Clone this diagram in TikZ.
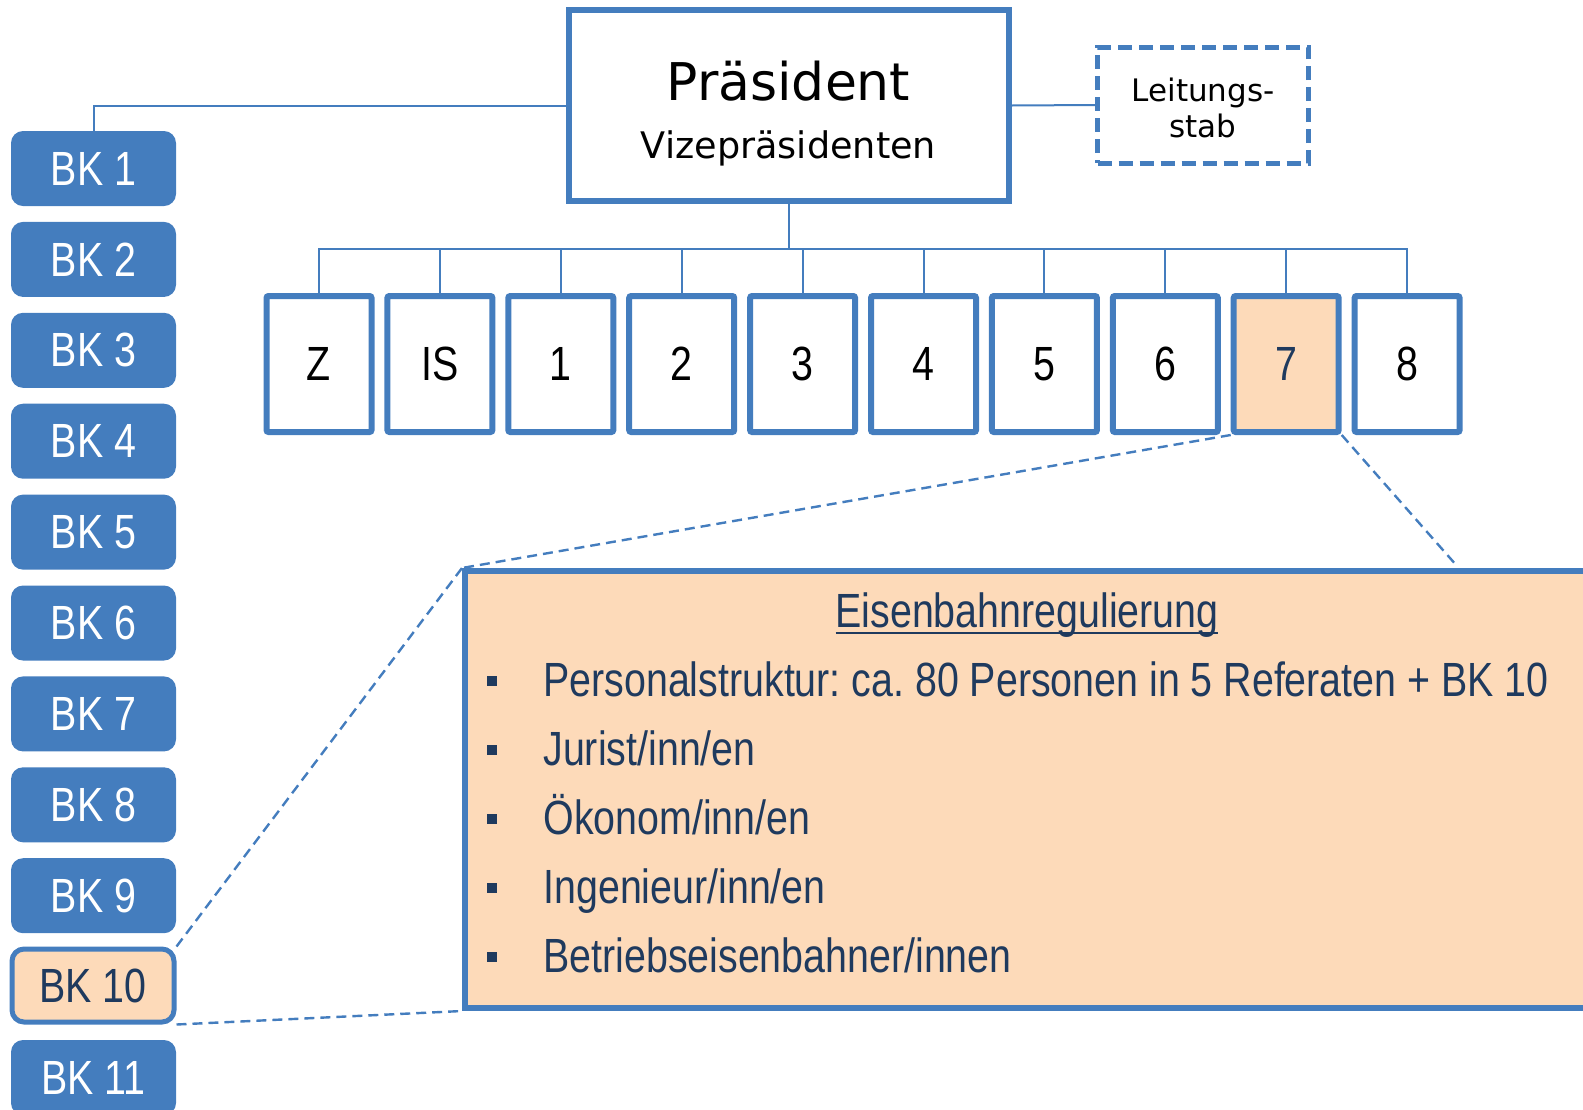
\documentclass[tikz,border=0pt]{standalone}
\usepackage{fontspec}
\setmainfont{Liberation Sans}
\newfontfamily\narrowfont[FakeStretch=0.82]{Liberation Sans}
\newfontfamily\vfont{DejaVu Sans}
\definecolor{bnblue}{RGB}{68,125,190}
\definecolor{peach}{RGB}{253,218,185}
\definecolor{navy}{RGB}{31,58,94}
\newcommand\myul[1]{\setbox0\hbox{#1}\rlap{\rule[-3.5pt]{\wd0}{1pt}}\box0}
\frenchspacing
\begin{document}
\begin{tikzpicture}[x=0.5pt,y=-0.5pt,
  bigfont/.style={font=\narrowfont\frenchspacing\fontsize{24pt}{28pt}\selectfont},
  bk/.style={fill=bnblue, rounded corners=6pt, minimum width=82.5pt, minimum height=37.5pt, inner sep=0pt, text=white, bigfont},
  bksel/.style={bk, draw=bnblue, line width=2.5pt, fill=peach, text=navy, minimum width=81pt, minimum height=36.5pt},
  dept/.style={draw=bnblue, line width=3pt, fill=white, rounded corners=1pt, minimum width=52.5pt, minimum height=68pt, inner sep=0pt, bigfont},
  deptsel/.style={dept, fill=peach, text=navy},
  presbox/.style={draw=bnblue, line width=3pt, fill=white, minimum width=220pt, minimum height=95.5pt, inner sep=0pt},
  lstbox/.style={draw=bnblue, line width=2.5pt, dash pattern=on 7pt off 3.5pt, fill=white, minimum width=105.5pt, minimum height=58pt, inner sep=0pt},
  bigbox/.style={draw=bnblue, line width=3pt, fill=peach, minimum width=620pt, minimum height=218.5pt, inner sep=0pt, anchor=north west},
  conn/.style={draw=bnblue, line width=1pt},
  zoomline/.style={draw=bnblue, line width=1.2pt, dash pattern=on 5pt off 3pt},
  itemtext/.style={anchor=base west, inner sep=0pt, text=navy, bigfont},
  bulletsq/.style={fill=navy, minimum size=5pt, inner sep=0pt},
  plain/.style={inner sep=0pt, anchor=base}
]
\useasboundingbox (0,0) rectangle (1583,1109);
\clip (0,0) rectangle (1583,1109);

% President and staff
\node[presbox] (pres) at (788.5,105.5) {};
\node[plain, font=\vfont\fontsize{26pt}{30pt}\selectfont] (prestitle) at (788.5,100) {Präsident};
\node[plain, font=\vfont\fontsize{18.3pt}{22pt}\selectfont] (presvize) at (788.5,158) {Vizepräsidenten};
\node[lstbox] (lst) at (1203,105) {};
\node[plain, font=\vfont\fontsize{15.5pt}{18pt}\selectfont] (lst1) at (1203,101) {Leitungs-};
\node[plain, font=\vfont\fontsize{15.5pt}{18pt}\selectfont] (lst2) at (1203,137) {stab};

% Beschlusskammern
\foreach \n in {1,...,9,11} {
  \node[bk] (bk\n) at (93.5,{168.5+(\n-1)*90.9}) {BK \n};
}
\node[bksel] (bk10) at (93,985.5) {BK 10};

% Abteilungen
\coordinate (bus) at (788.5,249);
\foreach \lab [count=\i from 0] in {Z,IS,1,2,3,4,5,6,7,8} {
  \ifnum\i=8
    \node[deptsel] (d\i) at ({319+\i*120.9},364) {\lab};
  \else
    \node[dept] (d\i) at ({319+\i*120.9},364) {\lab};
  \fi
}

% connectors
\draw[conn] (pres.west) -| (bk1.north);
\draw[conn] (pres.east) -- (lst.west);
\draw[conn] (pres.south) -- (bus);
\draw[conn] (d0.north) |- (bus) -| (d9.north);
\foreach \i in {1,...,8} {
  \draw[conn] (d\i.north) -- (d\i.north |- bus);
}

% detail box
\node[bigbox] (big) at (462,568) {};
\coordinate (bigtop) at (1457,566);
\draw[zoomline] (d8.south west) -- (big.north west);
\draw[zoomline] (d8.south east) -- (bigtop);
\draw[zoomline] (bk10.north east) -- (big.north west);
\draw[zoomline] (bk10.south east) -- (big.south west);

\node[plain, text=navy, bigfont] (eis) at (1027,627) {\myul{Eisenbahnregulierung}};
\foreach \t [count=\k from 0] in {{Personalstruktur: ca. 80 Personen in 5 Referaten + BK 10},{Jurist/inn/en},{Ökonom/inn/en},{Ingenieur/inn/en},{Betriebseisenbahner/innen}} {
  \node[bulletsq] (b\k) at (492,{681+\k*69}) {};
  \node[itemtext] (t\k) at (543,{696+\k*69}) {\t};
}
\end{tikzpicture}
\end{document}
